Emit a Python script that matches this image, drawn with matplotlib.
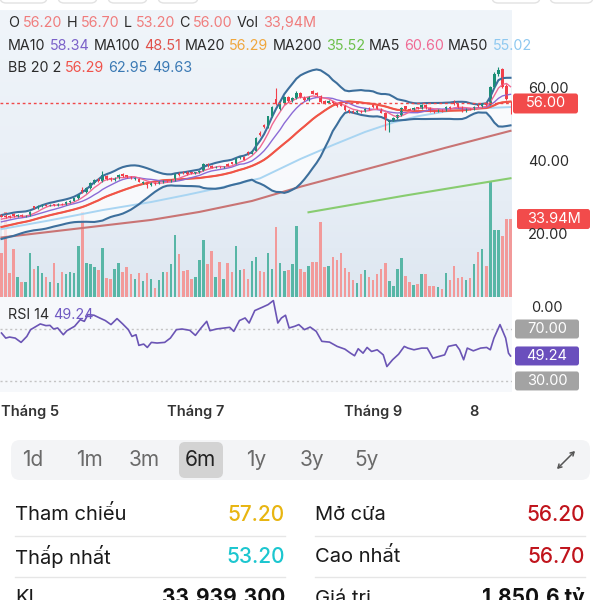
import matplotlib
matplotlib.use("Agg")
import matplotlib.pyplot as plt
from matplotlib.patches import FancyBboxPatch, Rectangle
from matplotlib.colors import LinearSegmentedColormap
from matplotlib import transforms
import numpy as np
import pandas as pd

plt.rcParams['font.family'] = ['Inter', 'DejaVu Sans']

# ---------------- data ----------------
opens = [25.5, 25.3, 25.2, 25.6, 25.1, 25.5, 25.0, 25.3, 27.8, 27.4,
         27.9, 28.3, 28.0, 28.4, 28.0, 28.6, 28.3, 29.0, 29.4, 30.0,
         32.4, 31.8, 32.9, 34.2, 35.3, 34.8, 36.2, 35.5, 35.0, 35.6,
         36.6, 36.3, 36.0, 35.2, 35.4, 34.2, 34.4, 33.7, 34.3, 34.0,
         34.5, 34.9, 34.6, 35.0, 37.0, 37.3, 37.2, 37.1, 36.9, 37.1,
         37.5, 39.5, 38.9, 38.4, 38.8, 38.5, 39.4, 39.9, 39.5, 41.1,
         41.3, 42.8, 42.3, 43.0, 48.0, 50.0, 49.5, 52.5, 57.2, 54.5,
         56.0, 57.8, 56.6, 57.5, 58.9, 57.8, 57.0, 59.4, 59.0, 58.0,
         56.8, 56.2, 56.6, 56.0, 55.9, 55.4, 54.2, 54.0, 53.6, 54.0,
         53.7, 54.8, 55.5, 55.3, 54.5, 53.5, 50.8, 51.3, 52.0, 52.9,
         55.2, 54.6, 54.3, 54.9, 54.6, 55.6, 54.8, 54.0, 53.7, 54.3,
         54.0, 55.1, 56.6, 55.9, 55.0, 53.9, 54.6, 54.3, 55.6, 55.2,
         56.2, 55.6, 60.4, 64.0, 65.5, 60.8, 56.2]
highs = [25.8, 25.6, 25.4, 25.9, 25.7, 25.7, 25.5, 26.5, 28.0, 28.3,
         28.5, 28.5, 28.5, 28.6, 28.7, 28.8, 29.2, 29.6, 30.2, 31.2,
         33.0, 33.1, 34.4, 35.3, 35.6, 37.5, 36.5, 35.8, 35.9, 36.7,
         36.9, 36.5, 36.2, 35.9, 35.6, 34.8, 34.6, 34.4, 34.5, 34.7,
         35.0, 35.1, 35.2, 37.0, 37.3, 37.5, 37.4, 37.3, 37.3, 37.7,
         39.8, 39.8, 39.2, 38.9, 39.0, 39.0, 39.6, 40.1, 41.3, 41.6,
         41.5, 43.0, 43.2, 46.8, 48.4, 50.3, 52.7, 55.3, 60.3, 56.3,
         58.0, 58.1, 57.8, 59.3, 59.1, 58.0, 58.1, 59.8, 59.2, 58.3,
         57.0, 56.9, 56.8, 56.2, 56.1, 55.6, 54.4, 54.2, 54.2, 54.2,
         54.7, 55.0, 55.8, 55.5, 54.7, 53.7, 51.5, 52.2, 53.1, 55.0,
         55.4, 54.8, 55.0, 55.1, 55.8, 55.8, 55.0, 54.2, 54.4, 54.5,
         55.2, 55.3, 56.9, 56.1, 55.2, 54.8, 54.8, 55.2, 55.8, 56.0,
         56.4, 60.8, 64.5, 66.0, 65.8, 61.3, 56.7]
lows = [24.8, 24.5, 24.6, 25.0, 25.0, 24.8, 24.9, 25.2, 27.0, 27.2,
        27.7, 27.8, 27.9, 27.8, 27.9, 28.1, 28.2, 28.8, 29.2, 29.9,
        31.5, 31.6, 32.7, 34.0, 34.5, 34.6, 35.0, 34.8, 34.9, 35.4,
        36.0, 35.7, 35.4, 35.0, 34.4, 34.0, 32.9, 33.5, 33.8, 33.9,
        34.3, 34.4, 34.5, 34.9, 36.2, 36.6, 36.5, 36.7, 36.8, 37.0,
        37.4, 38.6, 38.2, 38.3, 38.3, 38.4, 38.8, 39.3, 39.4, 40.9,
        40.4, 42.0, 42.1, 42.9, 47.2, 49.2, 49.4, 52.3, 55.5, 54.2,
        55.8, 56.3, 56.4, 57.3, 57.5, 56.7, 56.8, 58.5, 58.0, 56.2,
        55.9, 56.0, 55.8, 55.0, 55.2, 54.0, 53.5, 53.4, 53.5, 53.5,
        53.6, 54.2, 54.8, 54.4, 53.3, 48.8, 48.2, 51.1, 51.8, 52.7,
        54.3, 54.1, 54.2, 54.4, 54.5, 54.6, 53.8, 53.5, 53.6, 53.8,
        53.9, 54.6, 55.7, 54.8, 53.7, 53.8, 54.1, 54.2, 55.0, 55.1,
        55.4, 55.5, 60.2, 63.6, 60.2, 57.0, 53.2]
closes = [25.0, 24.8, 24.9, 25.2, 25.4, 25.0, 25.3, 26.3, 27.4, 28.0,
          28.2, 28.0, 28.3, 28.0, 28.5, 28.3, 29.0, 29.4, 30.0, 31.0,
          31.8, 32.9, 34.2, 35.0, 34.8, 36.4, 35.2, 35.0, 35.6, 36.4,
          36.2, 35.9, 35.6, 35.6, 34.6, 34.4, 33.7, 34.2, 34.0, 34.5,
          34.8, 34.6, 35.0, 36.8, 36.5, 36.9, 36.8, 36.9, 37.1, 37.5,
          39.5, 38.8, 38.4, 38.7, 38.5, 38.8, 39.0, 39.5, 41.1, 41.3,
          40.6, 42.3, 43.0, 46.6, 47.5, 49.5, 52.5, 55.0, 55.8, 56.0,
          57.8, 56.6, 57.5, 58.9, 57.8, 57.0, 57.9, 58.7, 58.2, 56.4,
          56.2, 56.6, 56.0, 55.2, 55.4, 54.2, 53.7, 53.6, 54.0, 53.7,
          54.5, 54.4, 55.0, 54.6, 53.5, 52.0, 51.3, 52.0, 52.9, 54.8,
          54.5, 54.3, 54.8, 54.6, 55.6, 54.8, 54.0, 53.7, 54.2, 54.0,
          55.0, 54.8, 55.9, 55.0, 53.9, 54.6, 54.3, 55.0, 55.2, 55.8,
          55.6, 60.4, 64.0, 65.2, 60.6, 57.2, 56.0]
# closes of the sessions just before the visible window (for MA5/10/20 and BB)
pre_closes = [19.6, 19.9, 20.3, 20.1, 20.6, 21.0, 21.3, 21.1, 21.6, 22.0,
              22.4, 22.3, 22.8, 23.2, 23.6, 23.5, 24.0, 24.4, 24.7]
volume_m = [19.2, 36.8, 10.6, 21.0, 8.9, 6.7, 6.7, 19.2, 12.2, 13.4,
            10.6, 8.6, 6.7, 14.9, 6.0, 10.7, 10.0, 10.7, 10.3, 22.0,
            36.8, 14.6, 14.3, 13.2, 11.7, 21.3, 8.2, 7.9, 12.4, 14.6,
            11.0, 12.9, 10.0, 7.9, 10.3, 7.0, 10.3, 8.0, 3.9, 7.4,
            11.0, 11.0, 14.3, 27.0, 18.5, 11.4, 11.7, 7.7, 8.9, 16.3,
            25.0, 14.3, 19.9, 8.9, 15.2, 7.7, 14.6, 11.0, 22.0, 11.7,
            12.4, 7.9, 15.6, 17.2, 11.3, 11.0, 19.3, 12.0, 30.6, 15.0,
            11.3, 11.7, 14.3, 31.0, 12.4, 11.0, 13.4, 15.2, 15.2, 32.8,
            12.9, 13.6, 17.5, 16.0, 19.3, 12.7, 11.0, 7.4, 6.0, 10.0,
            11.7, 8.9, 7.4, 10.0, 12.0, 14.6, 7.0, 4.9, 12.2, 17.0,
            9.2, 6.7, 5.3, 5.6, 10.0, 10.0, 4.9, 4.9, 4.3, 3.6,
            10.3, 7.4, 13.6, 8.4, 8.6, 7.2, 8.2, 14.3, 19.6, 21.0,
            13.4, 50.0, 29.2, 29.2, 26.7, 33.9, 33.94]

# long moving averages (session index, value)
ma50_idx = [0, 12, 25, 37, 46, 54, 64, 74, 82, 90, 97, 103, 111, 119, 126]
ma50_val = [21.6, 24.0, 26.8, 29.0, 31.0, 32.9, 35.5, 40.8, 44.6, 48.2, 50.8, 52.5, 54.0, 54.7, 55.02]
ma100_idx = [0, 37, 49, 62, 74, 94, 110, 126]
ma100_val = [19.3, 24.1, 26.3, 29.3, 33.2, 39.1, 43.9, 48.51]
ma200_idx = [76, 100, 126]
ma200_val = [26.2, 30.8, 35.52]

# indicator values shown in the legend header
legend_names = ["MA10", "MA100", "MA20", "MA200", "MA5", "MA50"]
legend_values = [58.34, 48.51, 56.29, 35.52, 60.60, 55.02]
bb_values = [56.29, 62.95, 49.63]

rsi_x = [0, 1.05, 2.0, 3.4, 4.85, 6.27, 7.2, 9.6, 11.0, 12.0,
         12.9, 13.9, 15.3, 16.2, 18.1, 19.5, 20.5, 21.4, 22.9, 24.3,
         25.7, 27.1, 28.6, 30.0, 31.4, 32.3, 33.3, 34.0, 35.2, 36.1,
         37.1, 38.5, 40.4, 41.8, 43.3, 44.7, 46.6, 48.0, 49.4, 50.8,
         51.6, 53.2, 56.5, 57.5, 58.9, 60.3, 61.3, 62.7, 64.6, 66.0,
         67.3, 68.4, 69.3, 70.3, 71.2, 72.6, 73.6, 75.0, 76.4, 77.9,
         79.3, 81.2, 83.1, 85.0, 86.4, 87.4, 88.3, 89.5, 90.5, 91.6,
         93.0, 94.5, 95.4, 96.8, 98.3, 99.7, 100.6, 102.1, 104.0, 105.4,
         106.8, 108.2, 109.7, 110.6, 112.5, 113.4, 114.4, 115.3, 116.8, 118.6,
         120.1, 121.0, 121.9, 123.4, 124.8, 125.5, 126]
rsi_v = [66.9, 63.0, 63.8, 63.0, 59.7, 64.3, 69.5, 73.9, 72.6, 72.8,
         70.0, 70.8, 65.6, 68.7, 72.1, 77.2, 75.9, 81.1, 80.6, 78.5,
         76.5, 73.4, 78.0, 73.9, 69.5, 64.3, 65.6, 57.4, 58.4, 55.8,
         59.7, 59.2, 59.7, 63.0, 69.5, 70.0, 69.0, 65.1, 70.8, 75.9,
         68.7, 70.0, 71.3, 68.2, 76.5, 78.5, 74.6, 84.2, 86.8, 88.8,
         91.9, 74.6, 78.5, 80.6, 70.8, 72.1, 73.4, 69.5, 71.5, 68.2,
         60.5, 59.9, 56.6, 54.5, 51.4, 49.4, 54.8, 51.4, 55.8, 52.7,
         54.0, 50.1, 41.1, 46.3, 50.6, 56.6, 55.3, 54.0, 55.3, 55.3,
         47.5, 48.8, 50.1, 56.6, 57.9, 54.0, 46.3, 55.3, 53.2, 55.3,
         55.8, 54.0, 63.0, 73.4, 63.0, 51.4, 49.24]

month_idx = [7, 48, 92, 117]
month_labels = ["Tháng 5", "Tháng 7", "Tháng 9", "8"]
price_ticks = [60, 40, 20]
ranges = ["1d", "1m", "3m", "6m", "1y", "3y", "5y"]
selected_range = "6m"
table_rows = [("Tham chiếu", "57.20", "#e8b511", "Mở cửa", "56.20", "#c0141c"),
              ("Thấp nhất", "53.20", "#1cc6cf", "Cao nhất", "56.70", "#c0141c"),
              ("KL", "33,939,300", "#111111", "Giá trị", "1,850.6 tỷ", "#111111")]

# ---------------- colours ----------------
C_UP, C_DN = '#1b8f76', '#f23f4a'
V_UP, V_DN = '#58b6a6', '#f29a9a'
C_MA5, C_MA10, C_MA20 = '#f06a94', '#8c6bd6', '#f0a63c'
C_MA50, C_MA100, C_MA200 = '#a9d5f2', '#c97474', '#88cc70'
C_BBM, C_BB = '#f0524a', '#3d6f9c'
TXT = '#2b2b2b'
legend_colors = ['#7b61c9', '#e0504a', '#f0a63c', '#6cc04a', '#f06a94', '#8ec8f0']

W = H = 600
fig = plt.figure(figsize=(6, 6), dpi=100)
fig.patch.set_facecolor('white')


def rect(x0, y0, x1, y1):
    return [x0 / W, 1 - y1 / H, (x1 - x0) / W, (y1 - y0) / H]


bg = fig.add_axes([0, 0, 1, 1])
grad = LinearSegmentedColormap.from_list('g', ['#f0f5fa', '#eaf0f7', '#dee7f1'])
bg.imshow(np.linspace(0, 1, 200).reshape(-1, 1), extent=(0, 512, 297, 10), cmap=grad,
          aspect='auto', interpolation='bilinear')
bg.add_patch(Rectangle((0, 297), 512, 95, color='#f6f8fb', lw=0))
# bottoms of the pill buttons cut off at the top edge
for x0, x1 in [(0, 47), (58, 97), (108, 147), (158, 198), (492, 540), (550, 593)]:
    bg.add_patch(FancyBboxPatch((x0, -20), x1 - x0, 23, boxstyle='round,pad=0,rounding_size=6',
                                fc='white', ec='#e2e2e2', lw=1))
bg.set_xlim(0, W); bg.set_ylim(H, 0); bg.axis('off')

o = np.array(opens); h = np.array(highs); l = np.array(lows); c = np.array(closes)
n = len(c)
idx = np.arange(n)
XL = (-0.37, n - 1 + 0.37)
up = c >= o

allc = pd.Series(pre_closes + closes)
ma5 = allc.rolling(5).mean().values[-n:]
ma10 = allc.rolling(10).mean().values[-n:]
ma20 = allc.rolling(20).mean().values[-n:]
sd20 = allc.rolling(20).std(ddof=0).values[-n:]
bb_up = ma20 + 2 * sd20
bb_lo = ma20 - 2 * sd20

# volume
ax_v = fig.add_axes(rect(0, 10, 512, 297))
ax_v.set_facecolor('none')
ax_v.bar(idx, volume_m, width=0.62, color=np.where(up, V_UP, V_DN), lw=0)
ax_v.set_xlim(XL); ax_v.set_ylim(0, 124.9); ax_v.axis('off')

# price
ax_p = fig.add_axes(rect(0, 10, 512, 297))
ax_p.set_facecolor('none')
ax_p.set_xlim(XL); ax_p.set_ylim(3.0, 81.6); ax_p.axis('off')
ax_p.fill_between(idx, bb_lo, bb_up, color='white', alpha=0.7, lw=0)
ax_p.plot(ma100_idx, ma100_val, color=C_MA100, lw=1.5)
ax_p.plot(ma200_idx, ma200_val, color=C_MA200, lw=1.5)
ax_p.plot(ma50_idx, ma50_val, color=C_MA50, lw=1.4)
ax_p.plot(idx, bb_up, color=C_BB, lw=1.5)
ax_p.plot(idx, bb_lo, color=C_BB, lw=1.5)
ax_p.plot(idx, ma20, color=C_MA20, lw=1.2)
ax_p.plot(idx, ma20, color=C_BBM, lw=1.5)
ax_p.plot(idx, ma10, color=C_MA10, lw=1.0)
ax_p.plot(idx, ma5, color=C_MA5, lw=1.0)
ccol = np.where(up, C_UP, C_DN)
ax_p.vlines(idx, l, h, colors=ccol, lw=0.8)
ax_p.bar(idx, np.maximum(np.abs(c - o), 0.15), bottom=np.minimum(o, c), width=0.62, color=ccol, lw=0)
ax_p.axhline(c[-1], color='#f04848', lw=1.0, ls=(0, (2, 2)))

# RSI
ax_r = fig.add_axes(rect(0, 299, 512, 392))
ax_r.set_facecolor('none')
ax_r.set_xlim(XL); ax_r.set_ylim(21.5, 93.1); ax_r.axis('off')
ax_r.axhline(70, color='#c4c4c4', lw=1, ls=(0, (1.5, 2)))
ax_r.axhline(30, color='#c4c4c4', lw=1, ls=(0, (1.5, 2)))
ax_r.plot(rsi_x, rsi_v, color='#6b55b5', lw=1.2)

# overlay for texts
ov = fig.add_axes([0, 0, 1, 1])
ov.set_xlim(0, W); ov.set_ylim(H, 0); ov.axis('off'); ov.set_facecolor('none')
R = fig.canvas.get_renderer()


def tw(s, size, weight='normal'):
    t = ov.text(0, 0, s, fontsize=size, fontweight=weight)
    w = t.get_window_extent(R).width
    t.remove()
    return w


def seg_line(x, y, segs, size):
    sp = tw('a a', size) - tw('aa', size)
    for s, col in segs:
        ov.text(x, y, s, color=col, fontsize=size, ha='left', va='center')
        x += tw(s, size) + sp


def ypix(ax, v):
    return H - ax.transData.transform((0, v))[1]


VR = '#f07c7c'
line1 = [("O", TXT), ("%.2f" % opens[-1], VR), ("H", TXT), ("%.2f" % highs[-1], VR),
         ("L", TXT), ("%.2f" % lows[-1], VR), ("C", TXT), ("%.2f" % closes[-1], VR),
         ("Vol", TXT), (("%.2fM" % volume_m[-1]).replace('.', ','), VR)]
line2 = []
for nm, vv, cc in zip(legend_names, legend_values, legend_colors):
    line2 += [(nm, TXT), ("%.2f" % vv, cc)]
line3 = [("BB 20 2", TXT), ("%.2f" % bb_values[0], C_BBM), ("%.2f" % bb_values[1], '#3a79b4'),
         ("%.2f" % bb_values[2], '#3a79b4')]
# fit header size so that line 2 spans about 8..530 px
s0 = 11
sp0 = tw('a a', s0) - tw('aa', s0)
w0 = sum(tw(s, s0) for s, _ in line2) + sp0 * (len(line2) - 1)
hs = s0 * 524 / w0
seg_line(8, 23, line1, hs)
seg_line(8, 46, line2, hs)
seg_line(8, 68, line3, hs)

# price axis labels
for v in price_ticks:
    ov.text(528, ypix(ax_p, v), "%.2f" % v, fontsize=10.5, color=TXT, ha='left', va='center')


def tag(x0, x1, yc, text, fc, hgt=20):
    ov.add_patch(FancyBboxPatch((x0, yc - hgt / 2), x1 - x0, hgt,
                                boxstyle='round,pad=0,rounding_size=2.5', fc=fc, ec='none'))
    ov.text((x0 + x1) / 2, yc, text, fontsize=10.5, color='white', ha='center', va='center')


tag(513, 578, ypix(ax_p, c[-1]), "%.2f" % c[-1], '#f24b4b')
tag(517, 590, ypix(ax_v, volume_m[-1]), "%.2fM" % volume_m[-1], '#f24b4b')

# RSI labels
ov.text(8, 315, "RSI 14", fontsize=hs, color=TXT, ha='left', va='center')
ov.text(8 + tw("RSI 14 ", hs), 315, "%.2f" % rsi_v[-1], fontsize=hs, color='#7059c2', ha='left', va='center')
ov.text(531, 308, "0.00", fontsize=10.5, color=TXT, ha='left', va='center')
tag(515, 579, ypix(ax_r, 70), "70.00", '#a3a3a3', 19)
tag(515, 579, ypix(ax_r, rsi_v[-1]), "%.2f" % rsi_v[-1], '#6a4fbd', 19)
tag(515, 579, ypix(ax_r, 30), "30.00", '#a3a3a3', 19)

# month labels
bt = transforms.blended_transform_factory(ax_r.transData, ov.transData)
for mi, ml in zip(month_idx, month_labels):
    ov.text(mi, 412, ml, transform=bt, fontsize=10.5, fontweight='semibold', color='#333333',
            ha='center', va='center')

# range selector
ov.add_patch(FancyBboxPatch((11, 440), 579, 40, boxstyle='round,pad=0,rounding_size=9',
                            fc='#f3f4f6', ec='none'))
for lab, cx in zip(ranges, [33, 89, 144, 200, 256, 312, 367]):
    if lab == selected_range:
        ov.add_patch(FancyBboxPatch((179, 442), 44, 36, boxstyle='round,pad=0,rounding_size=6',
                                    fc='#d3d3d3', ec='none'))
        ov.text(cx, 460, lab, fontsize=15, color='#222222', ha='center', va='center')
    else:
        ov.text(cx, 460, lab, fontsize=15, color='#6a6a6a', ha='center', va='center')
ov.annotate('', xy=(575, 451), xytext=(557, 469),
            arrowprops=dict(arrowstyle='<->,head_length=0.25,head_width=0.15', color='#555555',
                            lw=1.1, shrinkA=0, shrinkB=0))

# info table
row_y = [515, 557, 598]
for (ln, lv, lc, rn, rv, rc), yy in zip(table_rows, row_y):
    wt = 'bold' if yy == row_y[-1] else 'medium'
    ov.text(15, yy, ln, fontsize=14.5, color='#1a1a1a', ha='left', va='center')
    ov.text(285, yy, lv, fontsize=15, color=lc, ha='right', va='center', fontweight=wt)
    ov.text(315, yy, rn, fontsize=14.5, color='#1a1a1a', ha='left', va='center')
    ov.text(585, yy, rv, fontsize=15, color=rc, ha='right', va='center', fontweight=wt)
for yy in [536, 577]:
    ov.plot([15, 285], [yy, yy], color='#e6e6e6', lw=1)
    ov.plot([315, 585], [yy, yy], color='#e6e6e6', lw=1)

fig.savefig('out.png', dpi=100, facecolor='white')
